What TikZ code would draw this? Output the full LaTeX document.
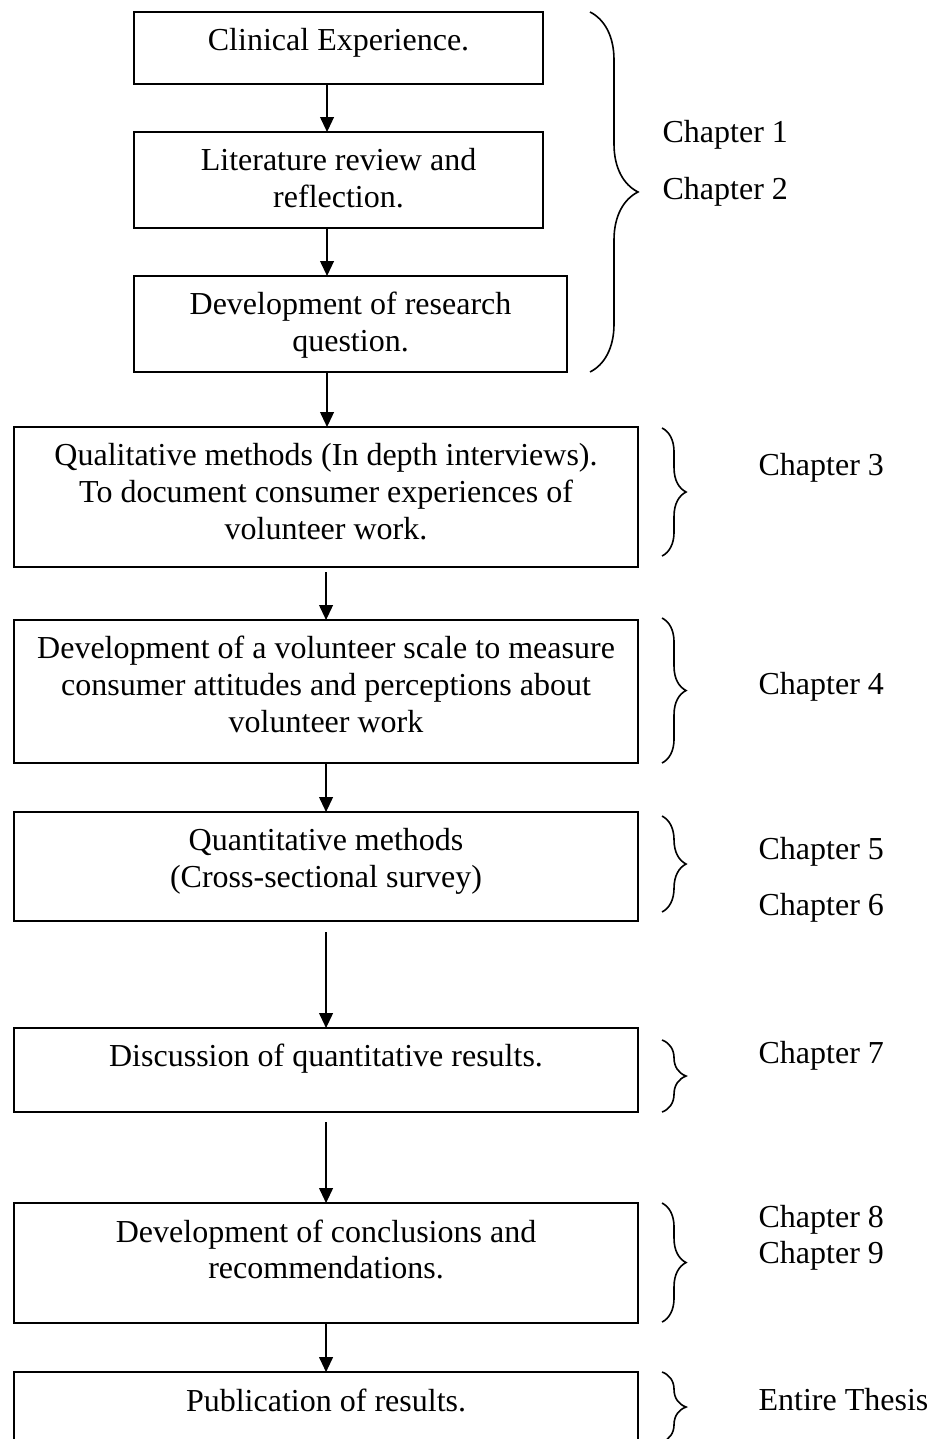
\documentclass[tikz,border=0pt]{standalone}
\usepackage{fontspec}
\setmainfont{Liberation Serif}
\usepackage{tikz}
\usetikzlibrary{positioning, arrows.meta, decorations.pathreplacing}

\begin{document}
\begin{tikzpicture}[
    box/.style={draw, line width=0.6pt, rectangle, inner sep=0pt, outer sep=0pt, font=\fontsize{12}{13.8}\selectfont},
    chapter/.style={inner sep=0pt, anchor=base west, font=\fontsize{12}{13.8}\selectfont},
    flow/.style={-{Triangle[length=5.6pt, width=5.2pt]}, line width=0.45pt},
    chapbrace/.style={decorate, decoration={brace, amplitude=0.316cm}, line width=0.6pt}
]

\useasboundingbox (0,0) rectangle (12.32,-18.96);

\node[box, anchor=north west] (clinicalExp) at (1.766,-0.158) {\parbox[c][0.949cm][t]{5.389cm}{\centering\rule{0pt}{14.6pt}Clinical Experience.}};
\node[box, below=0.632cm of clinicalExp] (litReview) {\parbox[c][1.265cm][t]{5.389cm}{\centering\rule{0pt}{14.6pt}Literature review and\\reflection.}};
\node[box, below=0.632cm of litReview.south west, anchor=north west] (researchQ) {\parbox[c][1.265cm][t]{5.705cm}{\centering\rule{0pt}{14.6pt}Development of research\\question.}};
\node[box, below=0.725cm of researchQ.south west, anchor=north west, xshift=-1.581cm] (qualMethods) {\parbox[c][1.845cm][t]{8.222cm}{\centering\rule{0pt}{14.6pt}Qualitative methods (In depth interviews).\\To document consumer experiences of\\volunteer work.}};
\node[box, below=0.698cm of qualMethods] (scaleDev) {\parbox[c][1.884cm][t]{8.222cm}{\centering\rule{0pt}{14.6pt}Development of a volunteer scale to measure\\consumer attitudes and perceptions about\\volunteer work}};
\node[box, below=0.646cm of scaleDev] (quantMethods) {\parbox[c][1.436cm][t]{8.222cm}{\centering\rule{0pt}{14.6pt}Quantitative methods\\(Cross-sectional survey)}};
\node[box, below=1.410cm of quantMethods] (quantDiscussion) {\parbox[c][1.107cm][t]{8.222cm}{\centering\rule{0pt}{14.6pt}Discussion of quantitative results.}};
\node[box, below=1.199cm of quantDiscussion] (conclusions) {\parbox[c][1.581cm][t]{8.222cm}{\centering\rule{0pt}{14.6pt}Development of conclusions and\\recommendations.}};
\node[box, below=0.646cm of conclusions] (publication) {\parbox[c][0.922cm][t]{8.222cm}{\centering\rule{0pt}{14.6pt}Publication of results.}};

% arrows down the flow
\coordinate (spine) at (4.309,0);
\draw[flow] (clinicalExp.south -| spine) -- (litReview.north -| spine);
\draw[flow] (litReview.south -| spine) -- (researchQ.north -| spine);
\draw[flow] (researchQ.south -| spine) -- (qualMethods.north -| spine);
\draw[flow, shorten <=0.066cm] (qualMethods) -- (scaleDev);
\draw[flow] (scaleDev) -- (quantMethods);
\draw[flow, shorten <=0.145cm] (quantMethods) -- (quantDiscussion);
\draw[flow, shorten <=0.132cm] (quantDiscussion) -- (conclusions);
\draw[flow] (conclusions) -- (publication);

% braces and chapters
\draw[chapbrace, decoration={amplitude=0.632cm}] (7.774,-0.158) -- (7.774,-4.901);
\draw[chapbrace] (8.723,-5.639) -- (8.723,-7.326);
\draw[chapbrace] (8.723,-8.143) -- (8.723,-10.053);
\draw[chapbrace] (8.723,-10.752) -- (8.723,-12.016);
\draw[chapbrace] (8.723,-13.703) -- (8.723,-14.652);
\draw[chapbrace] (8.723,-15.851) -- (8.723,-17.419);
\draw[chapbrace] (8.723,-18.077) -- (8.723,-19.000);

\node[chapter] (chapOne) at (8.723,-1.884) {Chapter 1};
\node[chapter] (chapTwo) at (8.723,-2.622) {Chapter 2};
\node[chapter] (chapThree) at (9.988,-6.259) {Chapter 3};
\node[chapter] (chapFour) at (9.988,-9.157) {Chapter 4};
\node[chapter] (chapFive) at (9.988,-11.331) {Chapter 5};
\node[chapter] (chapSix) at (9.988,-12.056) {Chapter 6};
\node[chapter] (chapSeven) at (9.988,-14.006) {Chapter 7};
\node[chapter] (chapEight) at (9.988,-16.167) {Chapter 8};
\node[chapter] (chapNine) at (9.988,-16.654) {Chapter 9};
\node[chapter] (thesis) at (9.988,-18.578) {Entire Thesis};

\end{tikzpicture}
\end{document}
